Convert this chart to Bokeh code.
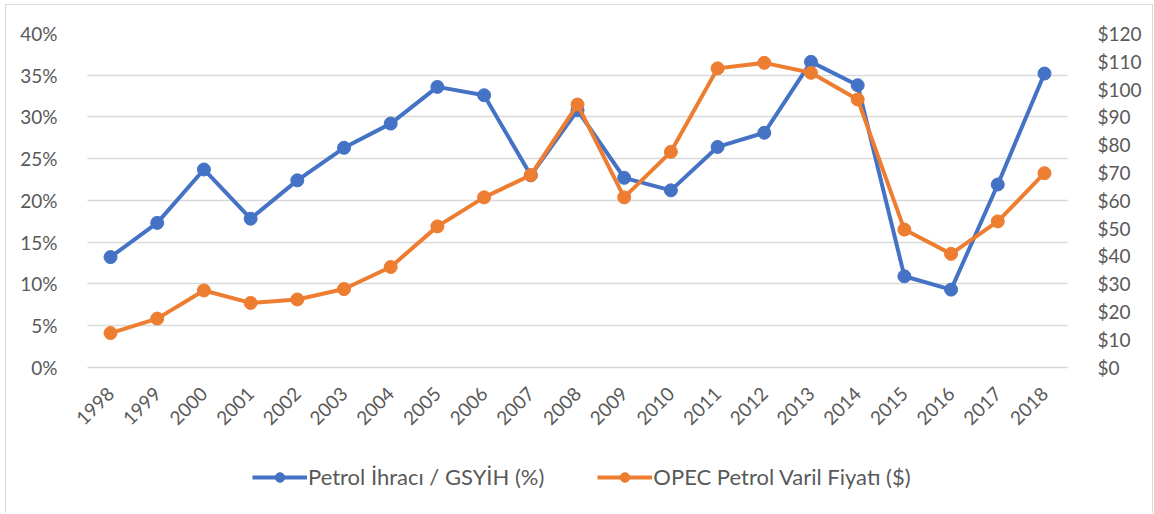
from math import pi
from bokeh.plotting import figure
from bokeh.models import (FactorRange, Range1d, LinearAxis, CategoricalAxis, FixedTicker,
                          PrintfTickFormatter, Legend, LegendItem)
from bokeh.embed import file_html
from bokeh.resources import INLINE

years = [str(y) for y in range(1998, 2019)]
export_gdp = [13.2, 17.3, 23.7, 17.8, 22.4, 26.3, 29.2, 33.6, 32.6, 23.0, 30.8,
              22.7, 21.2, 26.4, 28.1, 36.6, 33.8, 10.9, 9.3, 21.9, 35.2]
opec_price = [12.28, 17.48, 27.60, 23.12, 24.36, 28.10, 36.05, 50.64, 61.08, 69.08, 94.45,
              61.06, 77.45, 107.46, 109.45, 105.87, 96.29, 49.49, 40.76, 52.43, 69.78]
pct_ticks = [0, 5, 10, 15, 20, 25, 30, 35, 40]
usd_ticks = [0, 10, 20, 30, 40, 50, 60, 70, 80, 90, 100, 110, 120]
series_names = ["Petrol İhracı / GSYİH (%)", "OPEC Petrol Varil Fiyatı ($)"]

BLUE = "#4472C4"
ORANGE = "#ED7D31"
GRID = "#D9D9D9"
TXT = "#595959"
FONT = "Lato"

# frame: 472 px tall; the 0-40 % scale occupies its top 333 px, the rest holds labels/legend
FRAME_H, SCALE_H = 472, 333
pct_lo = 40 - 40 * FRAME_H / SCALE_H
usd_lo = 120 - 120 * FRAME_H / SCALE_H

xr = FactorRange(*years, range_padding=0.4, range_padding_units="absolute")
p = figure(width=1148, height=509, x_range=xr, y_range=Range1d(pct_lo, 40),
           output_backend="svg", toolbar_location=None, x_axis_location=None,
           min_border_left=62, min_border_right=68, min_border_top=28, min_border_bottom=8)
p.margin = (4, 0, 0, 5)
p.extra_y_ranges = {"price": Range1d(usd_lo, 120)}
p.outline_line_color = None
p.background_fill_color = "white"
p.border_fill_color = "white"

xax = CategoricalAxis(fixed_location=0)
p.add_layout(xax, "below")

yax = p.yaxis[0]
yax.ticker = FixedTicker(ticks=pct_ticks)
yax.formatter = PrintfTickFormatter(format="%d%%")
ryax = LinearAxis(y_range_name="price", ticker=FixedTicker(ticks=usd_ticks),
                  formatter=PrintfTickFormatter(format="$%d"))
p.add_layout(ryax, "right")

p.xgrid.grid_line_color = None
p.ygrid.grid_line_color = GRID
p.ygrid.grid_line_width = 1.3
p.ygrid.cross_bounds = (0, len(years))

for ax in [yax, ryax, xax]:
    ax.axis_line_color = None
    ax.major_tick_line_color = None
    ax.minor_tick_line_color = None
    ax.major_label_text_color = TXT
    ax.major_label_text_font = FONT
    ax.major_label_text_font_size = "19px"
yax.major_label_standoff = 5
ryax.major_label_standoff = 5
xax.major_label_orientation = pi / 4
xax.major_label_standoff = 17

l1 = p.line(years, export_gdp, line_color=BLUE, line_width=4)
c1 = p.scatter(years, export_gdp, size=13, fill_color=BLUE, line_color=BLUE)
l2 = p.line(years, opec_price, line_color=ORANGE, line_width=4, y_range_name="price")
c2 = p.scatter(years, opec_price, size=13, fill_color=ORANGE, line_color=ORANGE,
               y_range_name="price")

legend = Legend(items=[LegendItem(label=series_names[0], renderers=[l1, c1]),
                       LegendItem(label=series_names[1], renderers=[l2, c2])],
                orientation="horizontal", location=(184, 16),
                label_text_font=FONT, label_text_font_size="22px", label_text_color=TXT,
                glyph_width=55, glyph_height=24, label_height=24, label_standoff=1,
                spacing=53, border_line_color=None, background_fill_alpha=0,
                margin=0, padding=0)
p.add_layout(legend, "center")

p.styles = {"border": "1px solid #D9D9D9", "border-bottom": "none"}

open("out.html", "w").write(file_html(p, INLINE))
